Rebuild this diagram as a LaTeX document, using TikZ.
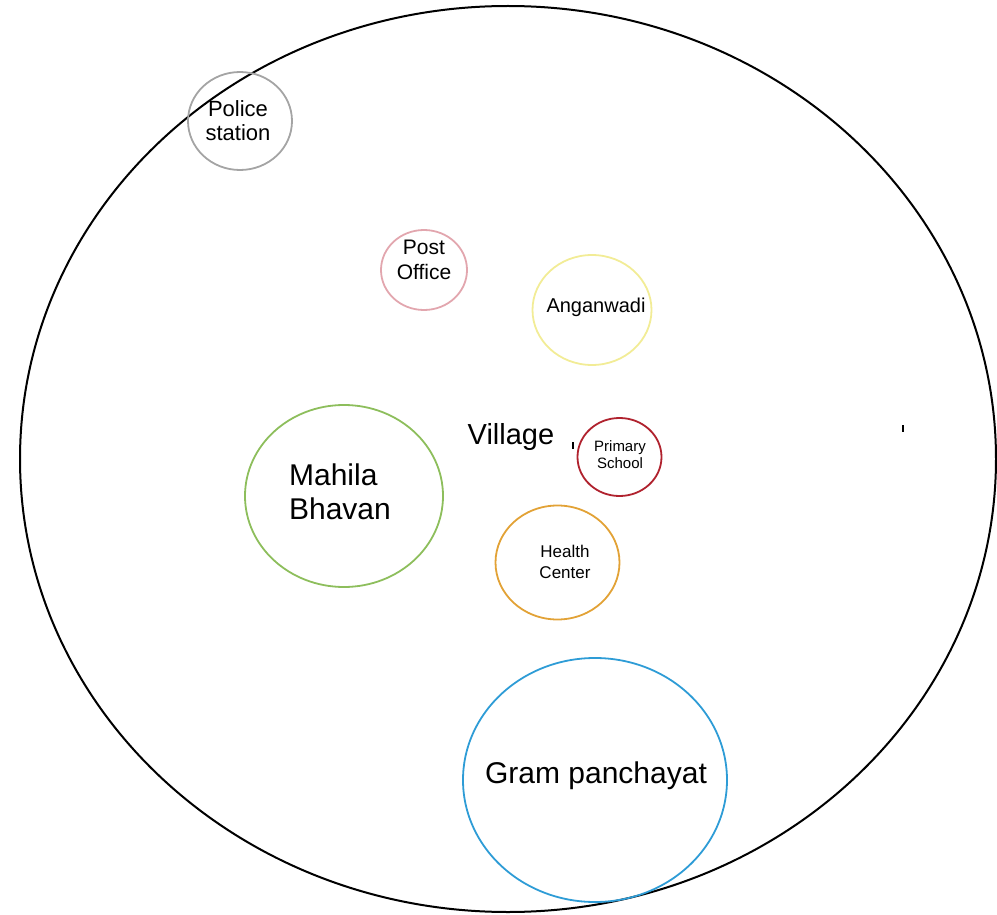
\documentclass[tikz,border=0pt]{standalone}
\usepackage{fontspec}
\setmainfont{Liberation Sans}
\usetikzlibrary{shapes.geometric}
\definecolor{polgray}{HTML}{A4A4A4}
\definecolor{postpink}{HTML}{E2A6AE}
\definecolor{angyellow}{HTML}{F2EC96}
\definecolor{mahgreen}{HTML}{8DBE5C}
\definecolor{schred}{HTML}{B0222E}
\definecolor{healthorange}{HTML}{E2A236}
\definecolor{gpblue}{HTML}{2E9CD6}
\tikzset{
  ring/.style={ellipse, draw, line width=1.8pt, inner sep=0pt, fill=none},
  lbl/.style={inner sep=0pt, align=center, text=black},
  tick/.style={line width=2pt, black}
}
\newcommand{\fs}[2]{\fontsize{#1}{#2}\selectfont}
\begin{document}
\begin{tikzpicture}[x=1pt,y=-1pt]
\useasboundingbox (0,0) rectangle (997,915);
% outer village boundary
\node[ellipse, draw=black, line width=2pt, inner sep=0pt, minimum width=976pt, minimum height=906pt] (village) at (508,459) {};
\node[lbl, font=\fs{29}{33}] (villagetxt) at (511,437) {Village};
% police station
\node[ring, draw=polgray, minimum width=104pt, minimum height=98pt] (police) at (240,121) {};
\node[lbl, font=\fs{22}{24}] (policetxt) at (238,121) {Police\\station};
% post office
\node[ring, draw=postpink, minimum width=86pt, minimum height=80pt] (post) at (424,270) {};
\node[lbl, font=\fs{21}{25}] (posttxt) at (424,260) {Post\\Office};
% anganwadi
\node[ring, draw=angyellow, minimum width=119pt, minimum height=110pt] (ang) at (592,310) {};
\node[lbl, font=\fs{20}{24}] (angtxt) at (596,307) {Anganwadi};
% mahila bhavan
\node[ring, draw=mahgreen, minimum width=198pt, minimum height=182pt] (mah) at (344,496) {};
\node[lbl, align=left, font=\fs{30}{34}] (mahtxt) at (340,492) {Mahila\\Bhavan};
% primary school
\node[ring, draw=schred, minimum width=84pt, minimum height=78pt] (school) at (619.5,457) {};
\node[lbl, font=\fs{15}{17}] (schooltxt) at (620,455) {Primary\\School};
% health center
\node[ring, draw=healthorange, minimum width=124pt, minimum height=114pt] (health) at (557.5,562.5) {};
\node[lbl, font=\fs{17}{21}] (healthtxt) at (565,562) {Health\\Center};
% gram panchayat
\node[ring, draw=gpblue, minimum width=264pt, minimum height=244pt] (gp) at (595,780) {};
\node[lbl, font=\fs{30}{34}] (gptxt) at (596,776) {Gram panchayat};
% stray marks
\coordinate (t1a) at (573,442); \coordinate (t1b) at (573,449);
\coordinate (t2a) at (903,425); \coordinate (t2b) at (903,432);
\draw[tick] (t1a) -- (t1b);
\draw[tick] (t2a) -- (t2b);
\end{tikzpicture}
\end{document}
